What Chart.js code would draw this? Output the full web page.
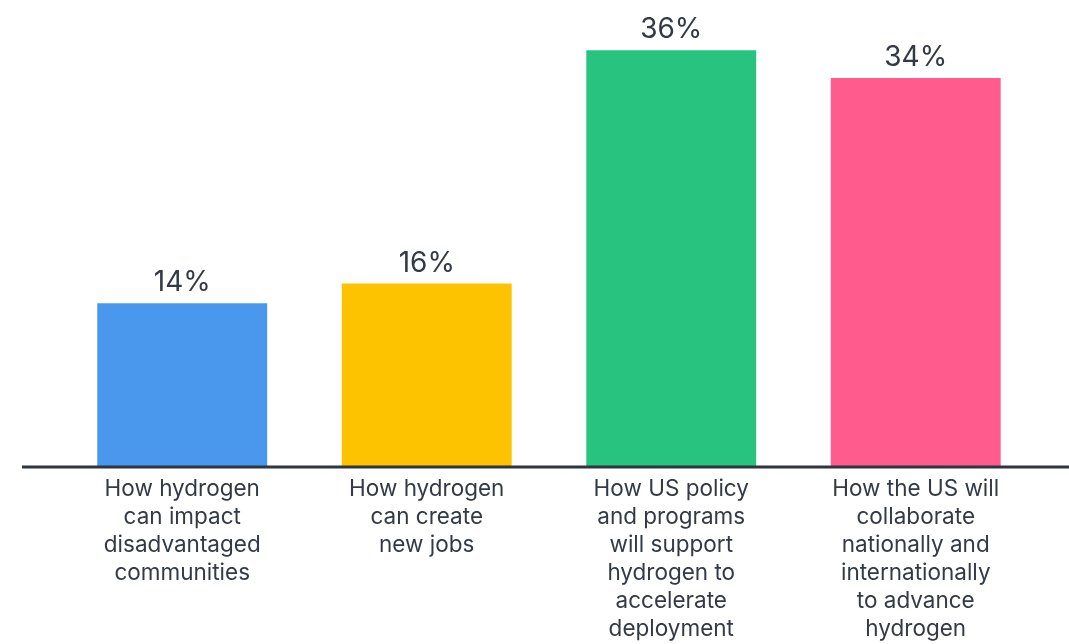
<!DOCTYPE html>
<html>
<head>
<meta charset="utf-8">
<script src="https://cdn.jsdelivr.net/npm/chart.js@4/dist/chart.umd.min.js"></script>
<style>
  html, body { margin: 0; padding: 0; background: #fff; }
  #wrap { width: 1069px; height: 644px; position: relative; }
</style>
</head>
<body>
<div id="wrap"><canvas id="topicsChart"></canvas></div>
<script>
// chart data (bar heights, labels rounded)
const categories = [
    ["How hydrogen", "can impact", "disadvantaged", "communities"],
    ["How hydrogen", "can create", "new jobs"],
    ["How US policy", "and programs", "will support", "hydrogen to", "accelerate", "deployment"],
    ["How the US will", "collaborate", "nationally and", "internationally", "to advance", "hydrogen"]
];
const shares = [14.1, 15.8, 36, 33.6];
const barColors = ["#4a98ee", "#fdc300", "#28c47f", "#ff5c8d"];

const textColor = "#333a45";

// long baseline under the bars
const baselinePlugin = {
    id: "baseline",
    afterDatasetsDraw(chart) {
        const ctx = chart.ctx;
        const y = chart.scales.y.getPixelForValue(0);
        ctx.save();
        ctx.strokeStyle = "#2e3440";
        ctx.lineWidth = 3;
        ctx.beginPath();
        ctx.moveTo(22, y + 1);
        ctx.lineTo(chart.width, y + 1);
        ctx.stroke();
        ctx.restore();
    }
};

// percentage labels above each bar
const valueLabels = {
    id: "valueLabels",
    afterDatasetsDraw(chart) {
        const ctx = chart.ctx;
        const meta = chart.getDatasetMeta(0);
        ctx.save();
        ctx.font = "28px Inter, 'Noto Sans', sans-serif";
        ctx.fillStyle = textColor;
        ctx.textAlign = "center";
        ctx.textBaseline = "alphabetic";
        meta.data.forEach((bar, i) => {
            ctx.fillText(Math.round(shares[i]) + "%", bar.x, bar.y - 12);
        });
        ctx.restore();
    }
};

new Chart(document.getElementById("topicsChart"), {
    type: "bar",
    data: {
        labels: categories,
        datasets: [{
            data: shares,
            backgroundColor: barColors,
            borderWidth: 0,
            barPercentage: 0.695,
            categoryPercentage: 1
        }]
    },
    options: {
        responsive: true,
        maintainAspectRatio: false,
        animation: false,
        layout: { padding: { left: 60, right: 31, top: 4, bottom: 0 } },
        plugins: {
            legend: { display: false },
            tooltip: { enabled: false }
        },
        scales: {
            x: {
                grid: { display: false, drawTicks: false },
                border: { display: false },
                ticks: {
                    color: textColor,
                    font: { family: "Inter, 'Noto Sans', sans-serif", size: 22.5, lineHeight: 1.245 },
                    padding: 9,
                    maxRotation: 0,
                    autoSkip: false
                },
                afterFit(scale) { scale.height = 178; }
            },
            y: {
                display: false,
                min: 0,
                max: 40
            }
        }
    },
    plugins: [baselinePlugin, valueLabels]
});
</script>
</body>
</html>
